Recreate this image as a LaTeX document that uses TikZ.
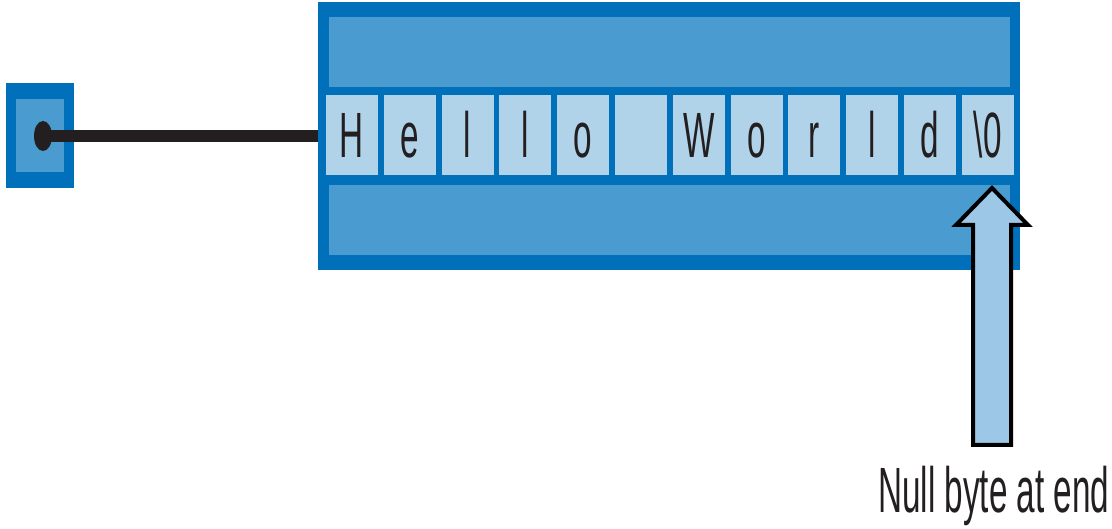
\documentclass[tikz,border=0pt]{standalone}
\usepackage{fontspec}
\usetikzlibrary{shapes.geometric}
\newfontfamily\condfont[FakeStretch=0.52]{Liberation Sans}
\definecolor{dblue}{HTML}{0070BA}
\definecolor{mblue}{HTML}{4A9BD0}
\definecolor{lblue}{HTML}{B0D3EA}
\definecolor{ablue}{HTML}{9CC7E6}
\definecolor{ink}{HTML}{231F20}
\begin{document}
\begin{tikzpicture}[x=1pt,y=-1pt,
  blk/.style={anchor=north west,inner sep=0pt,outer sep=0pt,draw=none},
  cellbox/.style={blk,fill=lblue,minimum width=52pt,minimum height=80pt,
     text height=46pt,text depth=0pt,font=\condfont\fontsize{64}{64}\selectfont,text=ink},
  ptrline/.style={draw=ink,line width=12pt},
  callout/.style={draw=black,fill=ablue,line width=4pt,line join=miter},
  note/.style={anchor=base west,inner sep=0pt,font=\condfont\fontsize{64}{64}\selectfont,text=ink}]
\useasboundingbox (0,0) rectangle (1112,529);
% string buffer
\node[blk,fill=dblue,minimum width=702pt,minimum height=268pt] (outer) at (318,2) {};
\node[blk,fill=mblue,minimum width=681pt,minimum height=70pt] (topband) at (329,17) {};
\node[blk,fill=mblue,minimum width=681pt,minimum height=70pt] (botband) at (329,185) {};
\foreach \ch [count=\i from 0] in {H,e,l,l,o,{},W,o,r,l,d,{\textbackslash 0}}{
  \node[cellbox] (c\i) at (326+57.8*\i,95) {\ch};
}
% pointer
\node[blk,fill=dblue,minimum width=68pt,minimum height=105pt] (pbox) at (6,83) {};
\node[blk,fill=mblue,minimum width=48pt,minimum height=73pt] (pinner) at (16,99) {};
\node[ellipse,fill=ink,inner sep=0pt,minimum width=18pt,minimum height=30pt] (dot) at (43,136) {};
\draw[ptrline] (dot.center) -- (outer.west);
% null byte arrow
\draw[callout] (992,188) -- (1028,225) -- (1011,225) -- (1011,445) -- (973,445) -- (973,225) -- (956,225) -- cycle;
\node[note] (lbl) at (878,512) {Null byte at end};
\end{tikzpicture}
\end{document}
